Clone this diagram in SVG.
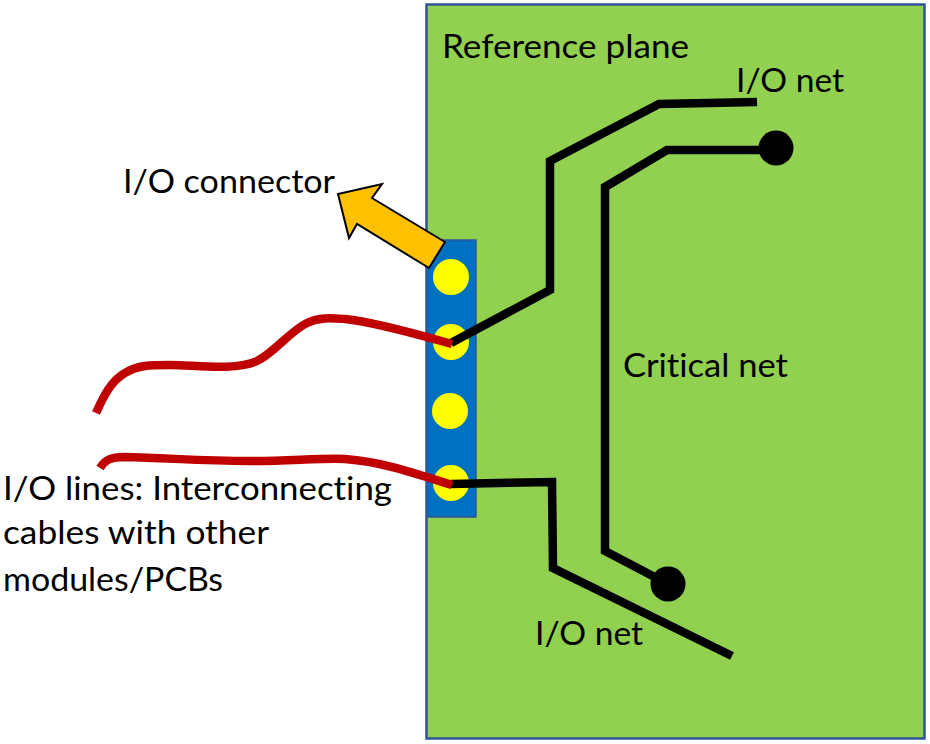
<svg xmlns="http://www.w3.org/2000/svg" width="930" height="744" viewBox="0 0 930 744">
<style>
text{font-family:"Lato","Open Sans",sans-serif;font-size:33px;fill:#000;font-variant-ligatures:none}
.n{fill:none;stroke:#000;stroke-width:8.500;stroke-linejoin:miter}
.c{fill:none;stroke:#c00000;stroke-width:8.500}
.p{fill:#ffff00}
</style>
<rect width="930" height="744" fill="#fff"/>
<g id="plane"><rect x="426.500" y="4.500" width="498" height="734" fill="#92d050" stroke="#2f5597" stroke-width="2.500"/><text x="442" y="58" textLength="247" lengthAdjust="spacingAndGlyphs">Reference plane</text></g>
<g id="connector"><rect x="427" y="240" width="49" height="277" fill="#0070c0" stroke="#2f5597" stroke-width="1.500"/>
<circle class="p" cx="451" cy="277" r="18"/><circle class="p" cx="451" cy="342" r="18"/><circle class="p" cx="450" cy="411" r="18"/><circle class="p" cx="451" cy="483" r="18"/></g>
<g id="connectors">
<path class="n" d="M451 343L550 290V161L659 104L757 102"/>
<path class="n" d="M451 484L552 482L553 568L732 656"/>
<path class="n" d="M776 150H667L605 187V551L668 584"/>
<path class="c" d="M96 413C104 395 112 380 125 373C138 365 150 365 170 365C195 365 235 371 257 361C274 353 290 331 307 323C320 317 330 318 345 319C375 322 420 335 452 344"/>
<path class="c" d="M100 468C105 460 110 457 125 457C170 458 200 461 250 461C290 461 320 458 345 459C385 462 420 475 452 485"/>
</g>
<g id="dot1"><circle cx="776" cy="148" r="17.500"/></g>
<g id="dot2"><circle cx="668" cy="584" r="17.500"/></g>
<g id="arrow"><path d="M445 242L429 268L357 224L349 238L338 194L382 184L372 198Z" fill="#ffc000" stroke="#000" stroke-width="2"/></g>
<g id="labels">
<text x="736" y="92" textLength="108" lengthAdjust="spacingAndGlyphs">I/O net</text>
<text x="123" y="193" textLength="212" lengthAdjust="spacingAndGlyphs">I/O connector</text>
<text x="623" y="377" textLength="165" lengthAdjust="spacingAndGlyphs">Critical net</text>
<text x="535" y="645" textLength="108" lengthAdjust="spacingAndGlyphs">I/O net</text>
<text x="3" y="500" textLength="389" lengthAdjust="spacingAndGlyphs">I/O lines: Interconnecting</text>
<text x="3" y="544" textLength="266" lengthAdjust="spacingAndGlyphs">cables with other</text>
<text x="3" y="591" textLength="220" lengthAdjust="spacingAndGlyphs">modules/PCBs</text>
</g>
</svg>
